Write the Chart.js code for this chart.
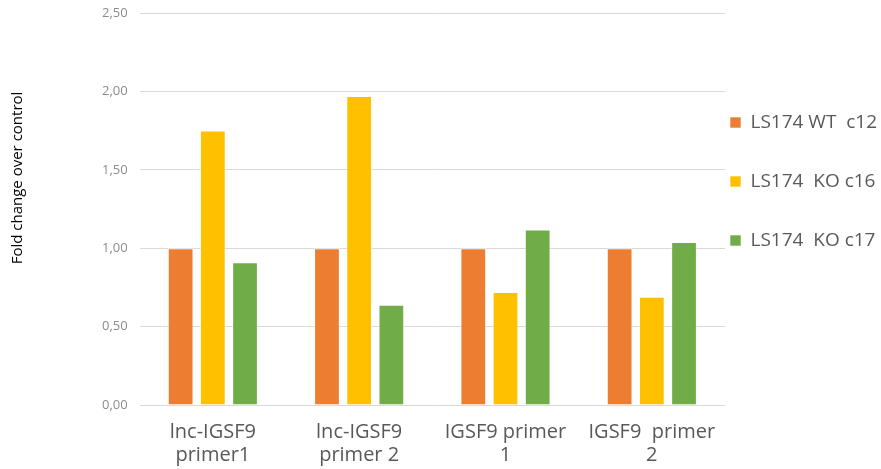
<!DOCTYPE html>
<html>
<head>
<meta charset="utf-8">
<script src="https://cdn.jsdelivr.net/npm/chart.js@4/dist/chart.umd.min.js"></script>
<style>
  html, body { margin: 0; padding: 0; background: #ffffff; }
  #wrap { width: 881px; height: 469px; }
</style>
</head>
<body>
<div id="wrap"><canvas id="c" width="881" height="469"></canvas></div>
<script>
// Primer targets on the x axis (two-line labels)
const categories = [
  ['lnc-IGSF9', 'primer1'],
  ['lnc-IGSF9', 'primer 2'],
  ['IGSF9 primer', '1'],
  ['IGSF9  primer', '2']
];

// Fold change over control per cell line
const seriesNames = ['LS174 WT  c12', 'LS174  KO c16', 'LS174  KO c17'];
const wtC12 = [1.00, 1.00, 1.00, 1.00];
const koC16 = [1.75, 1.97, 0.72, 0.69];
const koC17 = [0.91, 0.64, 1.12, 1.04];

// y-axis ticks and title
const yTicks = [0, 0.5, 1.0, 1.5, 2.0, 2.5];
const yTitle = 'Fold change over control';

const colors = ['#ED7D31', '#FFC000', '#70AD47'];
const FONT = 'Open Sans, Lato, sans-serif';

// Legend: narrow column just right of the plot, starting below the top
const LEGEND_GAP = 5;      // gap between plot edge and legend swatches
const LEGEND_TOP = 113;    // top of the first legend row
const legendPlacement = {
  id: 'legendPlacement',
  afterLayout(chart) {
    const lg = chart.legend;
    if (!lg) return;
    const pad = lg.options.labels.padding;
    lg.left = chart.chartArea.right + LEGEND_GAP - pad;
    lg.right = chart.width;
    lg.width = lg.right - lg.left;
    lg.top = LEGEND_TOP - pad;
    lg.bottom = chart.height;
    lg.height = lg.bottom - lg.top;
  }
};

// Rotated y-axis title at the far left, a little above the plot's middle
const yAxisTitle = {
  id: 'yAxisTitle',
  afterDraw(chart) {
    const ctx = chart.ctx;
    ctx.save();
    ctx.translate(18, chart.chartArea.top + 165);
    ctx.rotate(-Math.PI / 2);
    ctx.font = '15px ' + FONT;
    ctx.fillStyle = '#000000';
    ctx.textAlign = 'center';
    ctx.textBaseline = 'middle';
    ctx.fillText(yTitle, 0, 0);
    ctx.restore();
  }
};

new Chart(document.getElementById('c'), {
  type: 'bar',
  data: {
    labels: categories,
    datasets: [wtC12, koC16, koC17].map((vals, i) => ({
      label: seriesNames[i],
      data: vals,
      backgroundColor: colors[i],
      borderColor: 'rgba(255,255,255,0.6)',
      borderWidth: 1,
      categoryPercentage: 0.66,
      barPercentage: 0.8
    }))
  },
  plugins: [legendPlacement, yAxisTitle],
  options: {
    responsive: false,
    animation: false,
    layout: { padding: { top: 0, right: 0, bottom: -14, left: 90 } },
    plugins: {
      tooltip: { enabled: false },
      legend: {
        position: 'right',
        align: 'start',
        maxWidth: 156,
        labels: {
          boxWidth: 11,
          boxHeight: 11,
          padding: 40,
          color: '#595959',
          font: { family: FONT, size: 19 }
        }
      }
    },
    scales: {
      x: {
        grid: { display: false, drawTicks: false },
        border: { display: false },
        ticks: {
          color: '#595959',
          font: { family: FONT, size: 20, lineHeight: 1.15 },
          maxRotation: 0,
          autoSkip: false,
          padding: 16
        }
      },
      y: {
        min: 0,
        max: 2.5,
        afterBuildTicks: (axis) => { axis.ticks = yTicks.map(v => ({ value: v })); },
        afterFit: (axis) => { axis.paddingTop = 13; },
        grid: { color: '#d9d9d9', drawTicks: false, lineWidth: 1 },
        border: { display: false },
        ticks: {
          color: '#8c8c8c',
          font: { family: FONT, size: 13 },
          padding: 12,
          callback: (v) => Number(v).toFixed(2).replace('.', ',')
        }
      }
    }
  }
});
</script>
</body>
</html>
